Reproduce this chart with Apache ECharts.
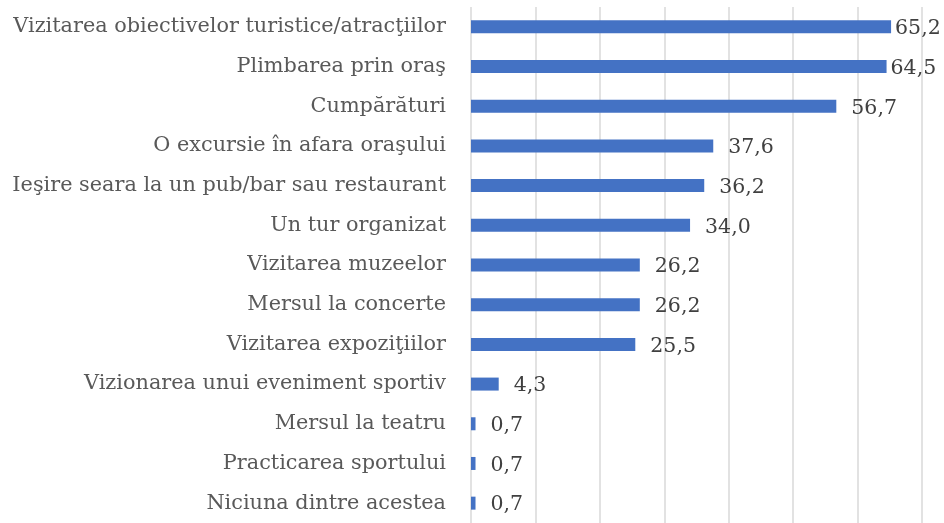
<!DOCTYPE html>
<html>
<head>
<meta charset="utf-8">
<script src="https://cdn.jsdelivr.net/npm/echarts@6/dist/echarts.min.js"></script>
<style>
html, body { margin: 0; padding: 0; background: #fff; }
#main { width: 944px; height: 523px; }
</style>
</head>
<body>
<div id="main"></div>
<script>
// categorii (de sus in jos)
var categorii = [
	'Vizitarea obiectivelor turistice/atracţiilor',
	'Plimbarea prin oraş',
	'Cumpărături',
	'O excursie în afara oraşului',
	'Ieşire seara la un pub/bar sau restaurant',
	'Un tur organizat',
	'Vizitarea muzeelor',
	'Mersul la concerte',
	'Vizitarea expoziţiilor',
	'Vizionarea unui eveniment sportiv',
	'Mersul la teatru',
	'Practicarea sportului',
	'Niciuna dintre acestea'
];
var valori = [65.2, 64.5, 56.7, 37.6, 36.2, 34.0, 26.2, 26.2, 25.5, 4.3, 0.7, 0.7, 0.7];
var axaMax = 70;
var axaPas = 10;

var chart = echarts.init(document.getElementById('main'));

// etichetele lungi de la capat sunt trase mai aproape de bara (ca in Excel)
var dateBare = valori.map(function(v) {
	return v > 60 ? { value : v, label : { distance : 4 } } : v;
});

var option = {
	backgroundColor : '#ffffff',
	animation : false,
	grid : {
		left : 471,
		right : 22,
		top : 7,
		height : 521,
		containLabel : false
	},
	xAxis : {
		type : 'value',
		min : 0,
		max : axaMax,
		interval : axaPas,
		axisLabel : { show : false },
		axisLine : { show : false },
		axisTick : { show : false },
		splitLine : {
			show : true,
			lineStyle : { color : '#d9d9d9', width : 1.5 }
		}
	},
	yAxis : {
		type : 'category',
		inverse : true,
		data : categorii,
		axisLine : { show : false },
		axisTick : { show : false },
		axisLabel : {
			margin : 25,
			color : '#595959',
			fontFamily : 'DejaVu Serif',
			fontSize : 20.8
		}
	},
	series : [ {
		type : 'bar',
		data : dateBare,
		barWidth : 13,
		itemStyle : { color : '#4472c4' },
		label : {
			show : true,
			position : 'right',
			distance : 15,
			offset : [ 0, 2 ],
			color : '#404040',
			fontFamily : 'DejaVu Serif',
			fontSize : 20.5,
			formatter : function(p) {
				return p.value.toFixed(1).replace('.', ',');
			}
		}
	} ]
};
chart.setOption(option);
</script>
</body>
</html>
